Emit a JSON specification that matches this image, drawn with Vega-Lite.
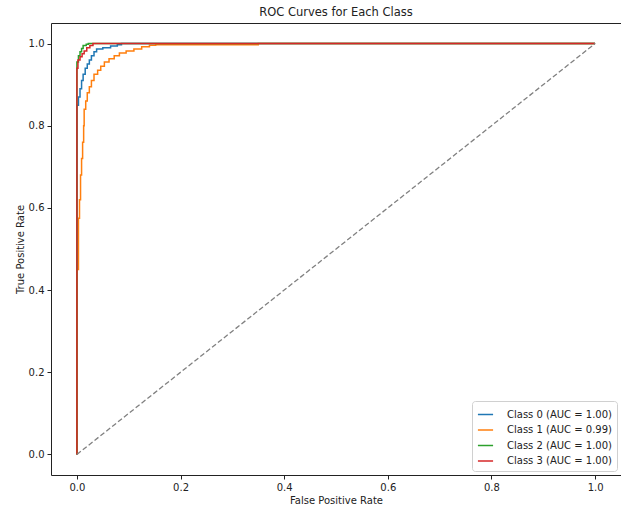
{
  "$schema": "https://vega.github.io/schema/vega-lite/v6.json",
  "width": 570,
  "height": 452,
  "autosize": {"type": "none"},
  "padding": {"left": 51, "top": 23, "right": 0, "bottom": 32},
  "background": "white",
  "title": {"text": "ROC Curves for Each Class", "fontSize": 11.5, "font": "DejaVu Sans", "fontWeight": "normal", "color": "#222", "offset": 5, "anchor": "middle"},
  "config": {
    "view": {"stroke": "#222", "strokeWidth": 1},
    "axis": {"grid": false, "domain": false, "tickColor": "#222", "tickSize": 4, "labelFont": "DejaVu Sans", "labelFontSize": 10, "labelColor": "#222", "titleFont": "DejaVu Sans", "titleFontSize": 10, "titleFontWeight": "normal", "titleColor": "#222", "labelPadding": 3, "titlePadding": 3},
    "legend": {"labelFont": "DejaVu Sans", "labelFontSize": 10, "labelColor": "#222"}
  },
  "datasets": {
    "roc": [
      {"cls": "Class 0 (AUC = 1.00)", "i": 0, "fpr": 0, "tpr": 0},
      {"cls": "Class 0 (AUC = 1.00)", "i": 1, "fpr": 0, "tpr": 0.85},
      {"cls": "Class 0 (AUC = 1.00)", "i": 2, "fpr": 0.003, "tpr": 0.85},
      {"cls": "Class 0 (AUC = 1.00)", "i": 3, "fpr": 0.003, "tpr": 0.87},
      {"cls": "Class 0 (AUC = 1.00)", "i": 4, "fpr": 0.006, "tpr": 0.87},
      {"cls": "Class 0 (AUC = 1.00)", "i": 5, "fpr": 0.006, "tpr": 0.89},
      {"cls": "Class 0 (AUC = 1.00)", "i": 6, "fpr": 0.009, "tpr": 0.89},
      {"cls": "Class 0 (AUC = 1.00)", "i": 7, "fpr": 0.009, "tpr": 0.91},
      {"cls": "Class 0 (AUC = 1.00)", "i": 8, "fpr": 0.012, "tpr": 0.91},
      {"cls": "Class 0 (AUC = 1.00)", "i": 9, "fpr": 0.012, "tpr": 0.925},
      {"cls": "Class 0 (AUC = 1.00)", "i": 10, "fpr": 0.016, "tpr": 0.925},
      {"cls": "Class 0 (AUC = 1.00)", "i": 11, "fpr": 0.016, "tpr": 0.94},
      {"cls": "Class 0 (AUC = 1.00)", "i": 12, "fpr": 0.02, "tpr": 0.94},
      {"cls": "Class 0 (AUC = 1.00)", "i": 13, "fpr": 0.02, "tpr": 0.95},
      {"cls": "Class 0 (AUC = 1.00)", "i": 14, "fpr": 0.024, "tpr": 0.95},
      {"cls": "Class 0 (AUC = 1.00)", "i": 15, "fpr": 0.024, "tpr": 0.96},
      {"cls": "Class 0 (AUC = 1.00)", "i": 16, "fpr": 0.028, "tpr": 0.96},
      {"cls": "Class 0 (AUC = 1.00)", "i": 17, "fpr": 0.028, "tpr": 0.97},
      {"cls": "Class 0 (AUC = 1.00)", "i": 18, "fpr": 0.033, "tpr": 0.97},
      {"cls": "Class 0 (AUC = 1.00)", "i": 19, "fpr": 0.033, "tpr": 0.98},
      {"cls": "Class 0 (AUC = 1.00)", "i": 20, "fpr": 0.038, "tpr": 0.98},
      {"cls": "Class 0 (AUC = 1.00)", "i": 21, "fpr": 0.038, "tpr": 0.987},
      {"cls": "Class 0 (AUC = 1.00)", "i": 22, "fpr": 0.05, "tpr": 0.987},
      {"cls": "Class 0 (AUC = 1.00)", "i": 23, "fpr": 0.05, "tpr": 0.99},
      {"cls": "Class 0 (AUC = 1.00)", "i": 24, "fpr": 0.065, "tpr": 0.99},
      {"cls": "Class 0 (AUC = 1.00)", "i": 25, "fpr": 0.065, "tpr": 0.994},
      {"cls": "Class 0 (AUC = 1.00)", "i": 26, "fpr": 0.078, "tpr": 0.994},
      {"cls": "Class 0 (AUC = 1.00)", "i": 27, "fpr": 0.078, "tpr": 0.997},
      {"cls": "Class 0 (AUC = 1.00)", "i": 28, "fpr": 0.086, "tpr": 0.997},
      {"cls": "Class 0 (AUC = 1.00)", "i": 29, "fpr": 0.086, "tpr": 1},
      {"cls": "Class 0 (AUC = 1.00)", "i": 30, "fpr": 1, "tpr": 1},

      {"cls": "Class 1 (AUC = 0.99)", "i": 0, "fpr": 0, "tpr": 0},
      {"cls": "Class 1 (AUC = 0.99)", "i": 1, "fpr": 0, "tpr": 0.45},
      {"cls": "Class 1 (AUC = 0.99)", "i": 2, "fpr": 0.003, "tpr": 0.45},
      {"cls": "Class 1 (AUC = 0.99)", "i": 3, "fpr": 0.003, "tpr": 0.575},
      {"cls": "Class 1 (AUC = 0.99)", "i": 4, "fpr": 0.005, "tpr": 0.575},
      {"cls": "Class 1 (AUC = 0.99)", "i": 5, "fpr": 0.005, "tpr": 0.62},
      {"cls": "Class 1 (AUC = 0.99)", "i": 6, "fpr": 0.007, "tpr": 0.62},
      {"cls": "Class 1 (AUC = 0.99)", "i": 7, "fpr": 0.007, "tpr": 0.68},
      {"cls": "Class 1 (AUC = 0.99)", "i": 8, "fpr": 0.009, "tpr": 0.68},
      {"cls": "Class 1 (AUC = 0.99)", "i": 9, "fpr": 0.009, "tpr": 0.72},
      {"cls": "Class 1 (AUC = 0.99)", "i": 10, "fpr": 0.011, "tpr": 0.72},
      {"cls": "Class 1 (AUC = 0.99)", "i": 11, "fpr": 0.011, "tpr": 0.76},
      {"cls": "Class 1 (AUC = 0.99)", "i": 12, "fpr": 0.013, "tpr": 0.76},
      {"cls": "Class 1 (AUC = 0.99)", "i": 13, "fpr": 0.013, "tpr": 0.8},
      {"cls": "Class 1 (AUC = 0.99)", "i": 14, "fpr": 0.014, "tpr": 0.8},
      {"cls": "Class 1 (AUC = 0.99)", "i": 15, "fpr": 0.014, "tpr": 0.84},
      {"cls": "Class 1 (AUC = 0.99)", "i": 16, "fpr": 0.017, "tpr": 0.84},
      {"cls": "Class 1 (AUC = 0.99)", "i": 17, "fpr": 0.017, "tpr": 0.86},
      {"cls": "Class 1 (AUC = 0.99)", "i": 18, "fpr": 0.02, "tpr": 0.86},
      {"cls": "Class 1 (AUC = 0.99)", "i": 19, "fpr": 0.02, "tpr": 0.88},
      {"cls": "Class 1 (AUC = 0.99)", "i": 20, "fpr": 0.024, "tpr": 0.88},
      {"cls": "Class 1 (AUC = 0.99)", "i": 21, "fpr": 0.024, "tpr": 0.895},
      {"cls": "Class 1 (AUC = 0.99)", "i": 22, "fpr": 0.028, "tpr": 0.895},
      {"cls": "Class 1 (AUC = 0.99)", "i": 23, "fpr": 0.028, "tpr": 0.91},
      {"cls": "Class 1 (AUC = 0.99)", "i": 24, "fpr": 0.033, "tpr": 0.91},
      {"cls": "Class 1 (AUC = 0.99)", "i": 25, "fpr": 0.033, "tpr": 0.925},
      {"cls": "Class 1 (AUC = 0.99)", "i": 26, "fpr": 0.04, "tpr": 0.925},
      {"cls": "Class 1 (AUC = 0.99)", "i": 27, "fpr": 0.04, "tpr": 0.935},
      {"cls": "Class 1 (AUC = 0.99)", "i": 28, "fpr": 0.046, "tpr": 0.935},
      {"cls": "Class 1 (AUC = 0.99)", "i": 29, "fpr": 0.046, "tpr": 0.945},
      {"cls": "Class 1 (AUC = 0.99)", "i": 30, "fpr": 0.053, "tpr": 0.945},
      {"cls": "Class 1 (AUC = 0.99)", "i": 31, "fpr": 0.053, "tpr": 0.955},
      {"cls": "Class 1 (AUC = 0.99)", "i": 32, "fpr": 0.062, "tpr": 0.955},
      {"cls": "Class 1 (AUC = 0.99)", "i": 33, "fpr": 0.062, "tpr": 0.963},
      {"cls": "Class 1 (AUC = 0.99)", "i": 34, "fpr": 0.072, "tpr": 0.963},
      {"cls": "Class 1 (AUC = 0.99)", "i": 35, "fpr": 0.072, "tpr": 0.97},
      {"cls": "Class 1 (AUC = 0.99)", "i": 36, "fpr": 0.082, "tpr": 0.97},
      {"cls": "Class 1 (AUC = 0.99)", "i": 37, "fpr": 0.082, "tpr": 0.977},
      {"cls": "Class 1 (AUC = 0.99)", "i": 38, "fpr": 0.095, "tpr": 0.977},
      {"cls": "Class 1 (AUC = 0.99)", "i": 39, "fpr": 0.095, "tpr": 0.982},
      {"cls": "Class 1 (AUC = 0.99)", "i": 40, "fpr": 0.11, "tpr": 0.982},
      {"cls": "Class 1 (AUC = 0.99)", "i": 41, "fpr": 0.11, "tpr": 0.987},
      {"cls": "Class 1 (AUC = 0.99)", "i": 42, "fpr": 0.125, "tpr": 0.987},
      {"cls": "Class 1 (AUC = 0.99)", "i": 43, "fpr": 0.125, "tpr": 0.992},
      {"cls": "Class 1 (AUC = 0.99)", "i": 44, "fpr": 0.14, "tpr": 0.992},
      {"cls": "Class 1 (AUC = 0.99)", "i": 45, "fpr": 0.14, "tpr": 0.996},
      {"cls": "Class 1 (AUC = 0.99)", "i": 46, "fpr": 0.152, "tpr": 0.996},
      {"cls": "Class 1 (AUC = 0.99)", "i": 47, "fpr": 0.152, "tpr": 0.997},
      {"cls": "Class 1 (AUC = 0.99)", "i": 48, "fpr": 0.35, "tpr": 0.997},
      {"cls": "Class 1 (AUC = 0.99)", "i": 49, "fpr": 0.35, "tpr": 1},
      {"cls": "Class 1 (AUC = 0.99)", "i": 50, "fpr": 1, "tpr": 1},

      {"cls": "Class 2 (AUC = 1.00)", "i": 0, "fpr": 0, "tpr": 0},
      {"cls": "Class 2 (AUC = 1.00)", "i": 1, "fpr": 0, "tpr": 0.955},
      {"cls": "Class 2 (AUC = 1.00)", "i": 2, "fpr": 0.003, "tpr": 0.955},
      {"cls": "Class 2 (AUC = 1.00)", "i": 3, "fpr": 0.003, "tpr": 0.97},
      {"cls": "Class 2 (AUC = 1.00)", "i": 4, "fpr": 0.006, "tpr": 0.97},
      {"cls": "Class 2 (AUC = 1.00)", "i": 5, "fpr": 0.006, "tpr": 0.98},
      {"cls": "Class 2 (AUC = 1.00)", "i": 6, "fpr": 0.009, "tpr": 0.98},
      {"cls": "Class 2 (AUC = 1.00)", "i": 7, "fpr": 0.009, "tpr": 0.988},
      {"cls": "Class 2 (AUC = 1.00)", "i": 8, "fpr": 0.012, "tpr": 0.988},
      {"cls": "Class 2 (AUC = 1.00)", "i": 9, "fpr": 0.012, "tpr": 0.995},
      {"cls": "Class 2 (AUC = 1.00)", "i": 10, "fpr": 0.018, "tpr": 0.995},
      {"cls": "Class 2 (AUC = 1.00)", "i": 11, "fpr": 0.018, "tpr": 0.998},
      {"cls": "Class 2 (AUC = 1.00)", "i": 12, "fpr": 0.022, "tpr": 0.998},
      {"cls": "Class 2 (AUC = 1.00)", "i": 13, "fpr": 0.022, "tpr": 1},
      {"cls": "Class 2 (AUC = 1.00)", "i": 14, "fpr": 1, "tpr": 1},

      {"cls": "Class 3 (AUC = 1.00)", "i": 0, "fpr": 0, "tpr": 0},
      {"cls": "Class 3 (AUC = 1.00)", "i": 1, "fpr": 0, "tpr": 0.94},
      {"cls": "Class 3 (AUC = 1.00)", "i": 2, "fpr": 0.002, "tpr": 0.94},
      {"cls": "Class 3 (AUC = 1.00)", "i": 3, "fpr": 0.002, "tpr": 0.96},
      {"cls": "Class 3 (AUC = 1.00)", "i": 4, "fpr": 0.006, "tpr": 0.96},
      {"cls": "Class 3 (AUC = 1.00)", "i": 5, "fpr": 0.006, "tpr": 0.968},
      {"cls": "Class 3 (AUC = 1.00)", "i": 6, "fpr": 0.01, "tpr": 0.968},
      {"cls": "Class 3 (AUC = 1.00)", "i": 7, "fpr": 0.01, "tpr": 0.975},
      {"cls": "Class 3 (AUC = 1.00)", "i": 8, "fpr": 0.014, "tpr": 0.975},
      {"cls": "Class 3 (AUC = 1.00)", "i": 9, "fpr": 0.014, "tpr": 0.982},
      {"cls": "Class 3 (AUC = 1.00)", "i": 10, "fpr": 0.019, "tpr": 0.982},
      {"cls": "Class 3 (AUC = 1.00)", "i": 11, "fpr": 0.019, "tpr": 0.99},
      {"cls": "Class 3 (AUC = 1.00)", "i": 12, "fpr": 0.025, "tpr": 0.99},
      {"cls": "Class 3 (AUC = 1.00)", "i": 13, "fpr": 0.025, "tpr": 0.995},
      {"cls": "Class 3 (AUC = 1.00)", "i": 14, "fpr": 0.031, "tpr": 0.995},
      {"cls": "Class 3 (AUC = 1.00)", "i": 15, "fpr": 0.031, "tpr": 1},
      {"cls": "Class 3 (AUC = 1.00)", "i": 16, "fpr": 1, "tpr": 1}
    ],
    "diag": [
      {"fpr": 0, "tpr": 0},
      {"fpr": 1, "tpr": 1}
    ]
  },
  "layer": [
    {
      "data": {"name": "roc"},
      "mark": {"type": "line", "strokeWidth": 1.5, "clip": true},
      "encoding": {
        "x": {"field": "fpr", "type": "quantitative", "scale": {"domain": [-0.05, 1.05], "nice": false, "zero": false}, "axis": {"values": [0, 0.2, 0.4, 0.6, 0.8, 1.0], "format": ".1f", "title": "False Positive Rate"}},
        "y": {"field": "tpr", "type": "quantitative", "scale": {"domain": [-0.05, 1.05], "nice": false, "zero": false}, "axis": {"values": [0, 0.2, 0.4, 0.6, 0.8, 1.0], "format": ".1f", "title": "True Positive Rate"}},
        "color": {"field": "cls", "type": "nominal", "scale": {"domain": ["Class 0 (AUC = 1.00)", "Class 1 (AUC = 0.99)", "Class 2 (AUC = 1.00)", "Class 3 (AUC = 1.00)"], "range": ["#1f77b4", "#ff7f0e", "#2ca02c", "#d62728"]},
          "legend": {"title": null, "orient": "bottom-right", "offset": 4, "symbolType": "stroke", "symbolStrokeWidth": 1.5, "symbolSize": 230, "rowPadding": 1.5, "labelOffset": 13, "padding": 5, "strokeColor": "#d0d0d0", "fillColor": "white", "cornerRadius": 3}},
        "order": {"field": "i", "type": "quantitative"}
      }
    },
    {
      "data": {"name": "diag"},
      "mark": {"type": "line", "strokeWidth": 1.3, "color": "#808080", "strokeDash": [5, 2.5]},
      "encoding": {
        "x": {"field": "fpr", "type": "quantitative"},
        "y": {"field": "tpr", "type": "quantitative"}
      }
    }
  ]
}
